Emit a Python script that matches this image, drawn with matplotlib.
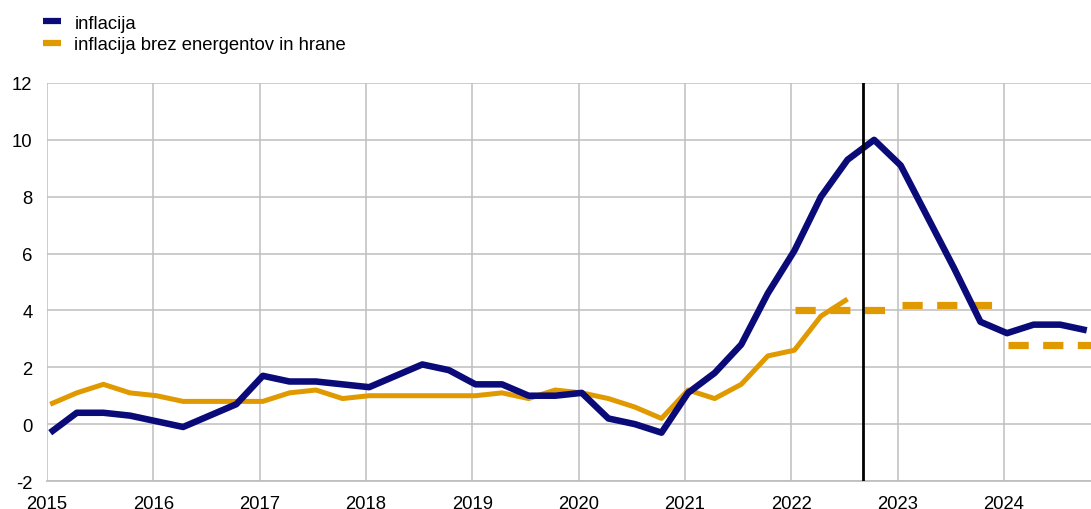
import numpy as np
import matplotlib.pyplot as plt

plt.rcParams['font.family'] = ['Liberation Sans', 'DejaVu Sans']
plt.rcParams['axes.unicode_minus'] = False

# Quarterly data, 2015Q1 - 2024Q4
start_year = 2015
inflacija = [-0.3, 0.4, 0.4, 0.3, 0.1, -0.1, 0.3, 0.7,
             1.7, 1.5, 1.5, 1.4, 1.3, 1.7, 2.1, 1.9,
             1.4, 1.4, 1.0, 1.0, 1.1, 0.2, 0.0, -0.3,
             1.1, 1.8, 2.8, 4.6, 6.1, 8.0, 9.3, 10.0,
             9.1, 7.3, 5.5, 3.6, 3.2, 3.5, 3.5, 3.3]
osnovna = [0.7, 1.1, 1.4, 1.1, 1.0, 0.8, 0.8, 0.8,
           0.8, 1.1, 1.2, 0.9, 1.0, 1.0, 1.0, 1.0,
           1.0, 1.1, 0.9, 1.2, 1.1, 0.9, 0.6, 0.2,
           1.2, 0.9, 1.4, 2.4, 2.6, 3.8, 4.4]

# annual projections of core inflation
proj_years = [2022, 2023, 2024]
proj_vals = [4.0, 4.2, 2.8]

cutoff = 2022.68
year_ticks = list(range(2015, 2025))
y_ticks = list(range(-2, 13, 2))

blue = '#0a0a78'
orange = '#e09a00'
grid_col = '#bfbfbf'

# quarter points sit slightly right of the quarter start
x_inf = start_year + 0.03 + np.arange(len(inflacija)) * 0.25
x_core = start_year + 0.03 + np.arange(len(osnovna)) * 0.25

fig = plt.figure(figsize=(10.91, 5.10), dpi=100)
ax = fig.add_axes([0.0431, 0.0549, 0.9569, 0.7804])

ax.plot(x_inf, inflacija, color=blue, lw=4.7, solid_capstyle='butt', zorder=4,
        label='inflacija')
ax.plot(x_core, osnovna, color=orange, lw=3.6, solid_capstyle='butt', zorder=3,
        label='inflacija brez energentov in hrane')
for yr, v in zip(proj_years, proj_vals):
    ax.plot([yr + 0.04, yr + 0.92], [v, v], color=orange, lw=5.2,
            dashes=(2.8, 2.0), solid_capstyle='butt', dash_capstyle='butt', zorder=3)

ax.axvline(cutoff, color='black', lw=2, zorder=5)

ax.set_xlim(2015, 2024.82)
ax.set_ylim(-2, 12)
ax.set_xticks(year_ticks)
ax.set_yticks(y_ticks)
ax.grid(True, color=grid_col, lw=1.1)
ax.set_axisbelow(True)
for s in ['top', 'right', 'left']:
    ax.spines[s].set_visible(False)
ax.spines['bottom'].set_color(grid_col)
ax.spines['bottom'].set_linewidth(1.3)
ax.tick_params(axis='both', length=0, labelsize=13.3, colors='black')
ax.tick_params(axis='x', pad=10)
ax.tick_params(axis='y', pad=10.5)

leg = fig.legend(loc='upper left', bbox_to_anchor=(0.0394, 0.969), frameon=False,
                 fontsize=13.3, handlelength=1.0, handletextpad=0.7,
                 labelspacing=0.25, borderpad=0, borderaxespad=0)
for h in leg.get_lines():
    h.set_linewidth(4.5)

fig.savefig('out.png', dpi=100)
